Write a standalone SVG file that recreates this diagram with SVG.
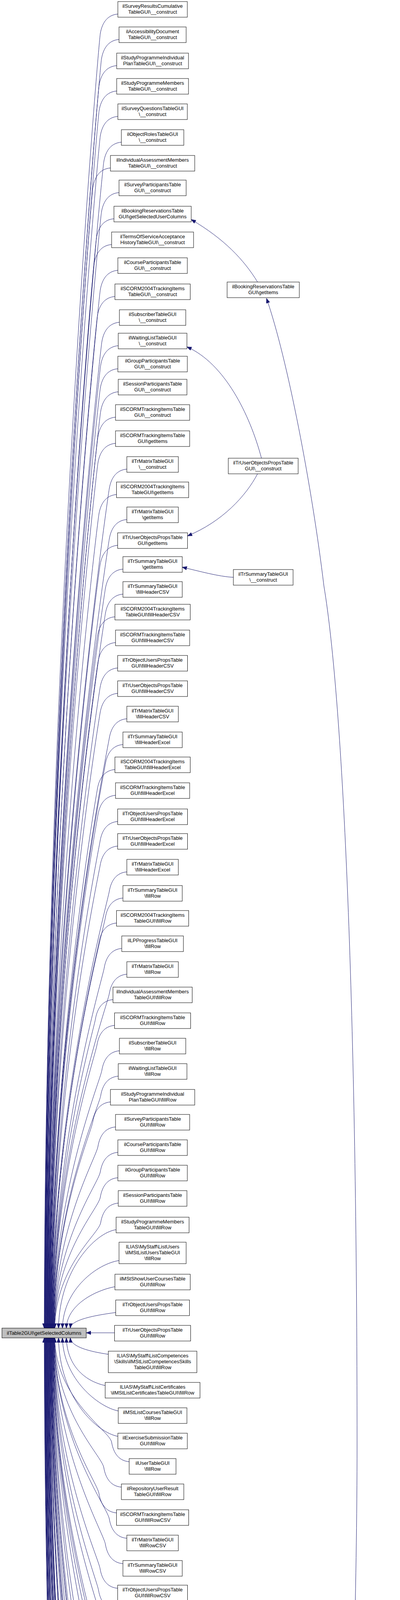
<svg xmlns="http://www.w3.org/2000/svg" width="1025" height="6863" viewBox="0 0 1025 6863">
<style>
.n rect{fill:#fff;stroke:#000;stroke-width:1}
.m rect{fill:#bfbfbf;stroke:#000;stroke-width:1}
text{font-family:"Liberation Sans",Arial,sans-serif;font-size:13px;fill:#000;text-anchor:middle}
.e path{fill:none;stroke:#191970;stroke-width:1;marker-end:url(#a)}
</style>
<defs><marker id="a" markerWidth="13" markerHeight="10" refX="12" refY="4.5" orient="auto" markerUnits="userSpaceOnUse"><path d="M0,0L12,4.5L0,9z" fill="#191970" stroke="#191970" stroke-width="1"/></marker></defs>
<rect width="1025" height="6863" fill="#fff"/>
<g id="connectors" class="e">
<path d="M302,36 c-25,2 -40,20 -45,50 S116.3,1718 113.3,3400"/>
<path d="M305,101 c-25,2 -40,20 -45,50 S116.9,1750.5 113.9,3400"/>
<path d="M299,168 c-25,2 -40,20 -45,50 S117.5,1784 114.5,3400"/>
<path d="M299,233 c-25,2 -40,20 -45,50 S118,1816.5 115,3400"/>
<path d="M302,298 c-25,2 -40,20 -45,50 S118.6,1849 115.6,3400"/>
<path d="M311,364 c-25,2 -40,20 -45,50 S119.2,1882 116.2,3400"/>
<path d="M283,430 c-25,2 -40,20 -45,50 S119.8,1915 116.8,3400"/>
<path d="M305,493 c-25,2 -40,20 -45,50 S120.3,1946.5 117.3,3400"/>
<path d="M292,560 c-25,2 -40,20 -45,50 S120.9,1980 117.9,3400"/>
<path d="M286,626 c-25,2 -40,20 -45,50 S121.5,2013 118.5,3400"/>
<path d="M302,692 c-25,2 -40,20 -45,50 S122.1,2046 119.1,3400"/>
<path d="M294.5,759 c-25,2 -40,20 -45,50 S122.7,2079.5 119.7,3400"/>
<path d="M306,825 c-25,2 -40,20 -45,50 S123.3,2112.5 120.3,3400"/>
<path d="M303,885 c-25,2 -40,20 -45,50 S123.8,2142.5 120.8,3400"/>
<path d="M302,944 c-25,2 -40,20 -45,50 S124.3,2172 121.3,3400"/>
<path d="M303,1003 c-25,2 -40,20 -45,50 S124.8,2201.5 121.8,3400"/>
<path d="M296,1068 c-25,2 -40,20 -45,50 S125.4,2234 122.4,3400"/>
<path d="M296,1135 c-25,2 -40,20 -45,50 S126,2267.5 123,3400"/>
<path d="M325,1201 c-25,2 -40,20 -45,50 S126.6,2300.5 123.6,3400"/>
<path d="M298.5,1266 c-25,2 -40,20 -45,50 S127.2,2333 124.2,3400"/>
<path d="M325,1330 c-25,2 -40,20 -45,50 S127.7,2365 124.7,3400"/>
<path d="M301.5,1396 c-25,2 -40,20 -45,50 S128.3,2398 125.3,3400"/>
<path d="M315,1457 c-25,2 -40,20 -45,50 S128.9,2428.5 125.9,3400"/>
<path d="M315,1521 c-25,2 -40,20 -45,50 S129.4,2460.5 126.4,3400"/>
<path d="M294.5,1579 c-25,2 -40,20 -45,50 S129.9,2489.5 126.9,3400"/>
<path d="M296,1645 c-25,2 -40,20 -45,50 S130.5,2522.5 127.5,3400"/>
<path d="M301.5,1710 c-25,2 -40,20 -45,50 S131.1,2555 128.1,3400"/>
<path d="M301.5,1775 c-25,2 -40,20 -45,50 S131.7,2587.5 128.7,3400"/>
<path d="M325,1840 c-25,2 -40,20 -45,50 S132.2,2620 129.2,3400"/>
<path d="M315,1906 c-25,2 -40,20 -45,50 S132.8,2653 129.8,3400"/>
<path d="M294.5,1970 c-25,2 -40,20 -45,50 S133.4,2685 130.4,3400"/>
<path d="M296,2036 c-25,2 -40,20 -45,50 S134,2718 131,3400"/>
<path d="M301.5,2103 c-25,2 -40,20 -45,50 S134.6,2751.5 131.6,3400"/>
<path d="M301.5,2166 c-25,2 -40,20 -45,50 S135.1,2783 132.1,3400"/>
<path d="M325,2232 c-25,2 -40,20 -45,50 S135.7,2816 132.7,3400"/>
<path d="M315,2299 c-25,2 -40,20 -45,50 S136.3,2849.5 133.3,3400"/>
<path d="M298.5,2363 c-25,2 -40,20 -45,50 S136.8,2881.5 133.8,3400"/>
<path d="M312,2428 c-25,2 -40,20 -45,50 S137.4,2914 134.4,3400"/>
<path d="M325,2494 c-25,2 -40,20 -45,50 S138,2947 135,3400"/>
<path d="M289.5,2559 c-25,2 -40,20 -45,50 S138.6,2979.5 135.6,3400"/>
<path d="M293.5,2625 c-25,2 -40,20 -45,50 S139.2,3012.5 136.2,3400"/>
<path d="M306,2690 c-25,2 -40,20 -45,50 S139.7,3045 136.7,3400"/>
<path d="M303,2755 c-25,2 -40,20 -45,50 S140.3,3077.5 137.3,3400"/>
<path d="M283,2821 c-25,2 -40,20 -45,50 S140.9,3110.5 137.9,3400"/>
<path d="M296,2885 c-25,2 -40,20 -45,50 S141.5,3142.5 138.5,3400"/>
<path d="M302,2950 c-25,2 -40,20 -45,50 S142,3175 139,3400"/>
<path d="M302,3015 c-25,2 -40,20 -45,50 S142.6,3207.5 139.6,3400"/>
<path d="M303,3080 c-25,2 -40,20 -45,50 S143.2,3240 140.2,3400"/>
<path d="M297.5,3148 C245,3155 152,3250 150,3400"/>
<path d="M305,3227 C250,3235 162,3300 160,3400"/>
<path d="M294.5,3294 C245,3303 172,3340 170,3400"/>
<path d="M296.5,3360 C245,3367 182,3378 180,3400"/>
<path d="M293.5,3412 L221,3412"/>
<path d="M277.5,3467 C230,3460 182,3448 180,3425"/>
<path d="M269.5,3547 C222,3537 172,3500 170,3425"/>
<path d="M303,3612 C252,3602 162,3530 160,3425"/>
<path d="M302,3677 C250,3668 152,3580 150,3425"/>
<path d="M331,3742 c-25,-2 -40,-20 -45,-50 S143.2,3583.5 140.2,3425"/>
<path d="M311,3807 c-25,-2 -40,-20 -45,-50 S142.6,3616 139.6,3425"/>
<path d="M298.5,3873 c-25,-2 -40,-20 -45,-50 S142,3649 139,3425"/>
<path d="M325,3938 c-25,-2 -40,-20 -45,-50 S141.5,3681.5 138.5,3425"/>
<path d="M315,4003 c-25,-2 -40,-20 -45,-50 S140.9,3714 137.9,3425"/>
<path d="M301.5,4066 c-25,-2 -40,-20 -45,-50 S140.3,3745.5 137.3,3425"/>
<path d="M297.5,4121 c-25,-2 -40,-20 -45,-50 S139.9,3773 136.9,3425"/>
<path d="M301.5,4185 c-25,-2 -40,-20 -45,-50 S139.3,3805 136.3,3425"/>
<path d="M294.5,4253 c-25,-2 -40,-20 -45,-50 S138.7,3839 135.7,3425"/>
<path d="M296,4318 c-25,-2 -40,-20 -45,-50 S138.1,3871.5 135.1,3425"/>
<path d="M325,4381 c-25,-2 -40,-20 -45,-50 S137.6,3903 134.6,3425"/>
<path d="M315,4445 c-25,-2 -40,-20 -45,-50 S137,3935 134,3425"/>
<path d="M301.5,4509 c-25,-2 -40,-20 -45,-50 S136.4,3967 133.4,3425"/>
<path d="M301.5,4575 c-25,-2 -40,-20 -45,-50 S135.9,4000 132.9,3425"/>
<path d="M294.5,4645 c-25,-2 -40,-20 -45,-50 S135.2,4035 132.2,3425"/>
<path d="M296,4711 c-25,-2 -40,-20 -45,-50 S134.6,4068 131.6,3425"/>
<path d="M311,4773 c-25,-2 -40,-20 -45,-50 S134.1,4099 131.1,3425"/>
<path d="M305,4837 c-25,-2 -40,-20 -45,-50 S133.5,4131 130.5,3425"/>
<path d="M302,4903 c-25,-2 -40,-20 -45,-50 S133,4164 130,3425"/>
<path d="M302,4966 c-25,-2 -40,-20 -45,-50 S132.4,4195.5 129.4,3425"/>
<path d="M301.5,5029 c-25,-2 -40,-20 -45,-50 S131.8,4227 128.8,3425"/>
<path d="M331,5092 c-25,-2 -40,-20 -45,-50 S131.3,4258.5 128.3,3425"/>
<path d="M295.5,5154 c-25,-2 -40,-20 -45,-50 S130.7,4289.5 127.7,3425"/>
<path d="M302,5213 c-25,-2 -40,-20 -45,-50 S130.2,4319 127.2,3425"/>
<path d="M302,5272 c-25,-2 -40,-20 -45,-50 S129.7,4348.5 126.7,3425"/>
<path d="M277.5,5337 c-25,-2 -40,-20 -45,-50 S129.1,4381 126.1,3425"/>
<path d="M291,5418 c-25,-2 -40,-20 -45,-50 S128.4,4421.5 125.4,3425"/>
<path d="M293.5,5498 c-25,-2 -40,-20 -45,-50 S127.7,4461.5 124.7,3425"/>
<path d="M308.5,5558 c-25,-2 -40,-20 -45,-50 S127.2,4491.5 124.2,3425"/>
<path d="M305,5614 c-25,-2 -40,-20 -45,-50 S126.7,4519.5 123.7,3425"/>
<path d="M297.5,5696 c-25,-2 -40,-20 -45,-50 S126,4560.5 123,3425"/>
<path d="M303,5756 c-25,-2 -40,-20 -45,-50 S125.4,4590.5 122.4,3425"/>
<path d="M306,5823 c-25,-2 -40,-20 -45,-50 S124.8,4624 121.8,3425"/>
<path d="M302,5883 c-25,-2 -40,-20 -45,-50 S124.3,4654 121.3,3425"/>
<path d="M298.5,5956 c-25,-2 -40,-20 -45,-50 S123.7,4690.5 120.7,3425"/>
<path d="M311,6021 c-25,-2 -40,-20 -45,-50 S123.1,4723 120.1,3425"/>
<path d="M293.5,6087 c-25,-2 -40,-20 -45,-50 S122.5,4756 119.5,3425"/>
<path d="M298.5,6152 c-25,-2 -40,-20 -45,-50 S121.9,4788.5 118.9,3425"/>
<path d="M288.5,6205 c-25,-2 -40,-20 -45,-50 S121.5,4815 118.5,3425"/>
<path d="M303,6270 c-25,-2 -40,-20 -45,-50 S120.9,4847.5 117.9,3425"/>
<path d="M302,6336 c-25,-2 -40,-20 -45,-50 S120.3,4880.5 117.3,3425"/>
<path d="M288.5,6401 c-25,-2 -40,-20 -45,-50 S119.7,4913 116.7,3425"/>
<path d="M302,6466 c-25,-2 -40,-20 -45,-50 S119.2,4945.5 116.2,3425"/>
<path d="M292.5,6531 c-25,-2 -40,-20 -45,-50 S118.6,4978 115.6,3425"/>
<path d="M296.5,6596 c-25,-2 -40,-20 -45,-50 S118,5010.5 115,3425"/>
<path d="M305,6662 c-25,-2 -40,-20 -45,-50 S117.4,5043.5 114.4,3425"/>
<path d="M302,6727 c-25,-2 -40,-20 -45,-50 S116.9,5076 113.9,3425"/>
<path d="M292.5,6793 c-25,-2 -40,-20 -45,-50 S116.3,5109 113.3,3425"/>
<path d="M660,722 C625,665 575,612 490,562"/>
<path d="M670,1173 C640,1060 575,930 479,888"/>
<path d="M660,1213 C630,1270 570,1335 480.5,1372"/>
<path d="M598,1478 C560,1476 510,1462 467,1452"/>
<path d="M483.5,6160 C620,6150 770,6110 792,6050 C860,5700 915,4400 915,3700 C915,2600 880,1800 830,1500 C800,1250 737,919 683,764"/>
<path d="M585,4906 C560,4930 520,5010 480.5,5035"/>
<path d="M582,4972 C555,4990 525,5120 486.5,5152"/>
<path d="M582,5038 C555,5055 530,5140 486.5,5160"/>
<path d="M600,5107 C570,5115 525,5150 486.5,5167"/>
<path d="M582,5157 C550,5160 515,5170 486.5,5174"/>
<path d="M585,5226 C540,5228 510,5226 480,5226"/>
<path d="M585,5238 C540,5248 510,5270 480,5280"/>
<path d="M583,5283 L480,5284"/>
<path d="M561,5357 L504.5,5357"/>
<path d="M575,5410 C550,5400 525,5388 504.5,5380"/>
<path d="M574,5500 C545,5485 515,5470 491,5455"/>
<path d="M578,5572 C540,5550 525,5480 491,5462"/>
<path d="M580,5652 C540,5630 525,5560 488.5,5524"/>
<path d="M578,5716 C535,5690 520,5580 488.5,5528"/>
<path d="M590,5783 C545,5760 525,5670 477,5640"/>
<path d="M590,5863 C545,5840 520,5690 477,5648"/>
<path d="M585,5944 C540,5920 520,5750 484.5,5712"/>
<path d="M585,6009 C540,5985 515,5770 484.5,5720"/>
<path d="M572,6216 L493.5,6216"/>
<path d="M582,6542 L489.5,6542"/>
<path d="M595,6781 C560,6785 520,6792 489.5,6798"/>
<path d="M586,6826 C555,6820 520,6812 489.5,6808"/>
</g>
<g id="main" class="m"><rect x="5" y="3400" width="216" height="25"/><text x="113" y="3417">ilTable2GUI\getSelectedColumns</text></g>
<g class="n">
<g id="c1_1"><rect x="302" y="4" width="178" height="40"/><text x="391" y="20">ilSurveyResultsCumulative</text><text x="391" y="35">TableGUI\__construct</text></g>
<g id="c1_2"><rect x="305" y="69" width="172" height="40"/><text x="391" y="85">ilAccessibilityDocument</text><text x="391" y="100">TableGUI\__construct</text></g>
<g id="c1_3"><rect x="299" y="136" width="184" height="40"/><text x="391" y="152">ilStudyProgrammeIndividual</text><text x="391" y="167">PlanTableGUI\__construct</text></g>
<g id="c1_4"><rect x="299" y="201" width="184" height="40"/><text x="391" y="217">ilStudyProgrammeMembers</text><text x="391" y="232">TableGUI\__construct</text></g>
<g id="c1_5"><rect x="302" y="266" width="178" height="40"/><text x="391" y="282">ilSurveyQuestionsTableGUI</text><text x="391" y="297">\__construct</text></g>
<g id="c1_6"><rect x="311" y="332" width="160" height="40"/><text x="391" y="348">ilObjectRolesTableGUI</text><text x="391" y="363">\__construct</text></g>
<g id="c1_7"><rect x="283" y="398" width="216" height="40"/><text x="391" y="414">ilIndividualAssessmentMembers</text><text x="391" y="429">TableGUI\__construct</text></g>
<g id="c1_8"><rect x="305" y="461" width="172" height="40"/><text x="391" y="477">ilSurveyParticipantsTable</text><text x="391" y="492">GUI\__construct</text></g>
<g id="c1_9"><rect x="292" y="528" width="198" height="40"/><text x="391" y="544">ilBookingReservationsTable</text><text x="391" y="559">GUI\getSelectedUserColumns</text></g>
<g id="c1_10"><rect x="286" y="594" width="210" height="40"/><text x="391" y="610">ilTermsOfServiceAcceptance</text><text x="391" y="625">HistoryTableGUI\__construct</text></g>
<g id="c1_11"><rect x="302" y="660" width="178" height="40"/><text x="391" y="676">ilCourseParticipantsTable</text><text x="391" y="691">GUI\__construct</text></g>
<g id="c1_12"><rect x="294.5" y="727" width="193" height="40"/><text x="391" y="743">ilSCORM2004TrackingItems</text><text x="391" y="758">TableGUI\__construct</text></g>
<g id="c1_13"><rect x="306" y="793" width="170" height="40"/><text x="391" y="809">ilSubscriberTableGUI</text><text x="391" y="824">\__construct</text></g>
<g id="c1_14"><rect x="303" y="853" width="176" height="40"/><text x="391" y="869">ilWaitingListTableGUI</text><text x="391" y="884">\__construct</text></g>
<g id="c1_15"><rect x="302" y="912" width="178" height="40"/><text x="391" y="928">ilGroupParticipantsTable</text><text x="391" y="943">GUI\__construct</text></g>
<g id="c1_16"><rect x="303" y="971" width="176" height="40"/><text x="391" y="987">ilSessionParticipantsTable</text><text x="391" y="1002">GUI\__construct</text></g>
<g id="c1_17"><rect x="296" y="1036" width="190" height="40"/><text x="391" y="1052">ilSCORMTrackingItemsTable</text><text x="391" y="1067">GUI\__construct</text></g>
<g id="c1_18"><rect x="296" y="1103" width="190" height="40"/><text x="391" y="1119">ilSCORMTrackingItemsTable</text><text x="391" y="1134">GUI\getItems</text></g>
<g id="c1_19"><rect x="325" y="1169" width="132" height="40"/><text x="391" y="1185">ilTrMatrixTableGUI</text><text x="391" y="1200">\__construct</text></g>
<g id="c1_20"><rect x="298.5" y="1234" width="185" height="40"/><text x="391" y="1250">ilSCORM2004TrackingItems</text><text x="391" y="1265">TableGUI\getItems</text></g>
<g id="c1_21"><rect x="325" y="1298" width="132" height="40"/><text x="391" y="1314">ilTrMatrixTableGUI</text><text x="391" y="1329">\getItems</text></g>
<g id="c1_22"><rect x="301.5" y="1364" width="179" height="40"/><text x="391" y="1380">ilTrUserObjectsPropsTable</text><text x="391" y="1395">GUI\getItems</text></g>
<g id="c1_23"><rect x="315" y="1425" width="152" height="40"/><text x="391" y="1441">ilTrSummaryTableGUI</text><text x="391" y="1456">\getItems</text></g>
<g id="c1_24"><rect x="315" y="1489" width="152" height="40"/><text x="391" y="1505">ilTrSummaryTableGUI</text><text x="391" y="1520">\fillHeaderCSV</text></g>
<g id="c1_25"><rect x="294.5" y="1547" width="193" height="40"/><text x="391" y="1563">ilSCORM2004TrackingItems</text><text x="391" y="1578">TableGUI\fillHeaderCSV</text></g>
<g id="c1_26"><rect x="296" y="1613" width="190" height="40"/><text x="391" y="1629">ilSCORMTrackingItemsTable</text><text x="391" y="1644">GUI\fillHeaderCSV</text></g>
<g id="c1_27"><rect x="301.5" y="1678" width="179" height="40"/><text x="391" y="1694">ilTrObjectUsersPropsTable</text><text x="391" y="1709">GUI\fillHeaderCSV</text></g>
<g id="c1_28"><rect x="301.5" y="1743" width="179" height="40"/><text x="391" y="1759">ilTrUserObjectsPropsTable</text><text x="391" y="1774">GUI\fillHeaderCSV</text></g>
<g id="c1_29"><rect x="325" y="1808" width="132" height="40"/><text x="391" y="1824">ilTrMatrixTableGUI</text><text x="391" y="1839">\fillHeaderCSV</text></g>
<g id="c1_30"><rect x="315" y="1874" width="152" height="40"/><text x="391" y="1890">ilTrSummaryTableGUI</text><text x="391" y="1905">\fillHeaderExcel</text></g>
<g id="c1_31"><rect x="294.5" y="1938" width="193" height="40"/><text x="391" y="1954">ilSCORM2004TrackingItems</text><text x="391" y="1969">TableGUI\fillHeaderExcel</text></g>
<g id="c1_32"><rect x="296" y="2004" width="190" height="40"/><text x="391" y="2020">ilSCORMTrackingItemsTable</text><text x="391" y="2035">GUI\fillHeaderExcel</text></g>
<g id="c1_33"><rect x="301.5" y="2071" width="179" height="40"/><text x="391" y="2087">ilTrObjectUsersPropsTable</text><text x="391" y="2102">GUI\fillHeaderExcel</text></g>
<g id="c1_34"><rect x="301.5" y="2134" width="179" height="40"/><text x="391" y="2150">ilTrUserObjectsPropsTable</text><text x="391" y="2165">GUI\fillHeaderExcel</text></g>
<g id="c1_35"><rect x="325" y="2200" width="132" height="40"/><text x="391" y="2216">ilTrMatrixTableGUI</text><text x="391" y="2231">\fillHeaderExcel</text></g>
<g id="c1_36"><rect x="315" y="2267" width="152" height="40"/><text x="391" y="2283">ilTrSummaryTableGUI</text><text x="391" y="2298">\fillRow</text></g>
<g id="c1_37"><rect x="298.5" y="2331" width="185" height="40"/><text x="391" y="2347">ilSCORM2004TrackingItems</text><text x="391" y="2362">TableGUI\fillRow</text></g>
<g id="c1_38"><rect x="312" y="2396" width="158" height="40"/><text x="391" y="2412">ilLPProgressTableGUI</text><text x="391" y="2427">\fillRow</text></g>
<g id="c1_39"><rect x="325" y="2462" width="132" height="40"/><text x="391" y="2478">ilTrMatrixTableGUI</text><text x="391" y="2493">\fillRow</text></g>
<g id="c1_40"><rect x="289.5" y="2527" width="203" height="40"/><text x="391" y="2543">ilIndividualAssessmentMembers</text><text x="391" y="2558">TableGUI\fillRow</text></g>
<g id="c1_41"><rect x="293.5" y="2593" width="195" height="40"/><text x="391" y="2609">ilSCORMTrackingItemsTable</text><text x="391" y="2624">GUI\fillRow</text></g>
<g id="c1_42"><rect x="306" y="2658" width="170" height="40"/><text x="391" y="2674">ilSubscriberTableGUI</text><text x="391" y="2689">\fillRow</text></g>
<g id="c1_43"><rect x="303" y="2723" width="176" height="40"/><text x="391" y="2739">ilWaitingListTableGUI</text><text x="391" y="2754">\fillRow</text></g>
<g id="c1_44"><rect x="283" y="2789" width="216" height="40"/><text x="391" y="2805">ilStudyProgrammeIndividual</text><text x="391" y="2820">PlanTableGUI\fillRow</text></g>
<g id="c1_45"><rect x="296" y="2853" width="190" height="40"/><text x="391" y="2869">ilSurveyParticipantsTable</text><text x="391" y="2884">GUI\fillRow</text></g>
<g id="c1_46"><rect x="302" y="2918" width="178" height="40"/><text x="391" y="2934">ilCourseParticipantsTable</text><text x="391" y="2949">GUI\fillRow</text></g>
<g id="c1_47"><rect x="302" y="2983" width="178" height="40"/><text x="391" y="2999">ilGroupParticipantsTable</text><text x="391" y="3014">GUI\fillRow</text></g>
<g id="c1_48"><rect x="303" y="3048" width="176" height="40"/><text x="391" y="3064">ilSessionParticipantsTable</text><text x="391" y="3079">GUI\fillRow</text></g>
<g id="c1_49"><rect x="297.5" y="3116" width="187" height="40"/><text x="391" y="3132">ilStudyProgrammeMembers</text><text x="391" y="3147">TableGUI\fillRow</text></g>
<g id="c1_50"><rect x="305" y="3180" width="172" height="55"/><text x="391" y="3196">ILIAS\MyStaff\ListUsers</text><text x="391" y="3211">\ilMStListUsersTableGUI</text><text x="391" y="3226">\fillRow</text></g>
<g id="c1_51"><rect x="294.5" y="3262" width="193" height="40"/><text x="391" y="3278">ilMStShowUserCoursesTable</text><text x="391" y="3293">GUI\fillRow</text></g>
<g id="c1_52"><rect x="296.5" y="3328" width="189" height="40"/><text x="391" y="3344">ilTrObjectUsersPropsTable</text><text x="391" y="3359">GUI\fillRow</text></g>
<g id="c1_53"><rect x="293.5" y="3393" width="195" height="40"/><text x="391" y="3409">ilTrUserObjectsPropsTable</text><text x="391" y="3424">GUI\fillRow</text></g>
<g id="c1_54"><rect x="277.5" y="3459" width="227" height="55"/><text x="391" y="3475">ILIAS\MyStaff\ListCompetences</text><text x="391" y="3490">\Skills\ilMStListCompetencesSkills</text><text x="391" y="3505">TableGUI\fillRow</text></g>
<g id="c1_55"><rect x="269.5" y="3539" width="243" height="40"/><text x="391" y="3555">ILIAS\MyStaff\ListCertificates</text><text x="391" y="3570">\ilMStListCertificatesTableGUI\fillRow</text></g>
<g id="c1_56"><rect x="303" y="3604" width="176" height="40"/><text x="391" y="3620">ilMStListCoursesTableGUI</text><text x="391" y="3635">\fillRow</text></g>
<g id="c1_57"><rect x="302" y="3669" width="178" height="40"/><text x="391" y="3685">ilExerciseSubmissionTable</text><text x="391" y="3700">GUI\fillRow</text></g>
<g id="c1_58"><rect x="331" y="3734" width="120" height="40"/><text x="391" y="3750">ilUserTableGUI</text><text x="391" y="3765">\fillRow</text></g>
<g id="c1_59"><rect x="311" y="3799" width="160" height="40"/><text x="391" y="3815">ilRepositoryUserResult</text><text x="391" y="3830">TableGUI\fillRow</text></g>
<g id="c1_60"><rect x="298.5" y="3865" width="185" height="40"/><text x="391" y="3881">ilSCORMTrackingItemsTable</text><text x="391" y="3896">GUI\fillRowCSV</text></g>
<g id="c1_61"><rect x="325" y="3930" width="132" height="40"/><text x="391" y="3946">ilTrMatrixTableGUI</text><text x="391" y="3961">\fillRowCSV</text></g>
<g id="c1_62"><rect x="315" y="3995" width="152" height="40"/><text x="391" y="4011">ilTrSummaryTableGUI</text><text x="391" y="4026">\fillRowCSV</text></g>
<g id="c1_63"><rect x="301.5" y="4058" width="179" height="40"/><text x="391" y="4074">ilTrObjectUsersPropsTable</text><text x="391" y="4089">GUI\fillRowCSV</text></g>
<g id="c1_64"><rect x="297.5" y="4113" width="187" height="40"/><text x="391" y="4129">ilSCORM2004TrackingItems</text><text x="391" y="4144">TableGUI\fillRowCSV</text></g>
<g id="c1_65"><rect x="301.5" y="4177" width="179" height="40"/><text x="391" y="4193">ilTrUserObjectsPropsTable</text><text x="391" y="4208">GUI\fillRowCSV</text></g>
<g id="c1_66"><rect x="294.5" y="4245" width="193" height="40"/><text x="391" y="4261">ilSCORM2004TrackingItems</text><text x="391" y="4276">TableGUI\fillRowExcel</text></g>
<g id="c1_67"><rect x="296" y="4310" width="190" height="40"/><text x="391" y="4326">ilSCORMTrackingItemsTable</text><text x="391" y="4341">GUI\fillRowExcel</text></g>
<g id="c1_68"><rect x="325" y="4373" width="132" height="40"/><text x="391" y="4389">ilTrMatrixTableGUI</text><text x="391" y="4404">\fillRowExcel</text></g>
<g id="c1_69"><rect x="315" y="4437" width="152" height="40"/><text x="391" y="4453">ilTrSummaryTableGUI</text><text x="391" y="4468">\fillRowExcel</text></g>
<g id="c1_70"><rect x="301.5" y="4501" width="179" height="40"/><text x="391" y="4517">ilTrObjectUsersPropsTable</text><text x="391" y="4532">GUI\fillRowExcel</text></g>
<g id="c1_71"><rect x="301.5" y="4567" width="179" height="40"/><text x="391" y="4583">ilTrUserObjectsPropsTable</text><text x="391" y="4598">GUI\fillRowExcel</text></g>
<g id="c1_72"><rect x="294.5" y="4637" width="193" height="40"/><text x="391" y="4653">ilBookingReservationsTable</text><text x="391" y="4668">GUI\fillRow</text></g>
<g id="c1_73"><rect x="296" y="4703" width="190" height="40"/><text x="391" y="4719">ilSurveyParticipantsTable</text><text x="391" y="4734">GUI\getItems</text></g>
<g id="c1_74"><rect x="311" y="4765" width="160" height="40"/><text x="391" y="4781">ilObjectRolesTableGUI</text><text x="391" y="4796">\fillRow</text></g>
<g id="c1_75"><rect x="305" y="4829" width="172" height="40"/><text x="391" y="4845">ilAccessibilityDocument</text><text x="391" y="4860">TableGUI\fillRow</text></g>
<g id="c1_76"><rect x="302" y="4895" width="178" height="40"/><text x="391" y="4911">ilSurveyQuestionsTableGUI</text><text x="391" y="4926">\fillRow</text></g>
<g id="c1_77"><rect x="302" y="4958" width="178" height="40"/><text x="391" y="4974">ilSurveyResultsCumulative</text><text x="391" y="4989">TableGUI\fillRow</text></g>
<g id="c1_78"><rect x="301.5" y="5021" width="179" height="40"/><text x="391" y="5037">ilTrObjectUsersPropsTable</text><text x="391" y="5052">GUI\getItems</text></g>
<g id="c1_79"><rect x="331" y="5084" width="120" height="40"/><text x="391" y="5100">ilUserTableGUI</text><text x="391" y="5115">\getItems</text></g>
<g id="c1_80"><rect x="295.5" y="5146" width="191" height="40"/><text x="391" y="5162">ilBookingReservationsTable</text><text x="391" y="5177">GUI\getAdditionalExportCols</text></g>
<g id="c1_81"><rect x="302" y="5205" width="178" height="40"/><text x="391" y="5221">ilExerciseSubmissionTable</text><text x="391" y="5236">GUI\initColumns</text></g>
<g id="c1_82"><rect x="302" y="5264" width="178" height="40"/><text x="391" y="5280">ilExerciseSubmissionTable</text><text x="391" y="5295">GUI\parseColumns</text></g>
<g id="c1_83"><rect x="277.5" y="5329" width="227" height="55"/><text x="391" y="5345">ILIAS\MyStaff\ListCompetences</text><text x="391" y="5360">\Skills\ilMStListCompetencesSkills</text><text x="391" y="5375">TableGUI\getFieldValuesForExport</text></g>
<g id="c1_84"><rect x="291" y="5410" width="200" height="55"/><text x="391" y="5426">ILIAS\MyStaff\ListCertificates</text><text x="391" y="5441">\ilMStListCertificatesTableGUI</text><text x="391" y="5456">\getFieldValuesForExport</text></g>
<g id="c1_85"><rect x="293.5" y="5490" width="195" height="40"/><text x="391" y="5506">ilMStShowUserCoursesTable</text><text x="391" y="5521">GUI\getFieldValuesForExport</text></g>
<g id="c1_86"><rect x="308.5" y="5550" width="165" height="40"/><text x="391" y="5566">ilUserTableGUI</text><text x="391" y="5581">\getSelectableColumns</text></g>
<g id="c1_87"><rect x="305" y="5606" width="172" height="55"/><text x="391" y="5622">ILIAS\MyStaff\ListUsers</text><text x="391" y="5637">\ilMStListUsersTableGUI</text><text x="391" y="5652">\getFieldValuesForExport</text></g>
<g id="c1_88"><rect x="297.5" y="5688" width="187" height="40"/><text x="391" y="5704">ilMStListCoursesTableGUI</text><text x="391" y="5719">\getFieldValuesForExport</text></g>
<g id="c1_89"><rect x="303" y="5748" width="176" height="40"/><text x="391" y="5764">ilWaitingListTableGUI</text><text x="391" y="5779">\getItems</text></g>
<g id="c1_90"><rect x="306" y="5815" width="170" height="40"/><text x="391" y="5831">ilSubscriberTableGUI</text><text x="391" y="5846">\getItems</text></g>
<g id="c1_91"><rect x="302" y="5875" width="178" height="40"/><text x="391" y="5891">ilGroupParticipantsTable</text><text x="391" y="5906">GUI\getItems</text></g>
<g id="c1_92"><rect x="298.5" y="5948" width="185" height="40"/><text x="391" y="5964">ilStudyProgrammeMembers</text><text x="391" y="5979">TableGUI\getItems</text></g>
<g id="c1_93"><rect x="311" y="6013" width="160" height="40"/><text x="391" y="6029">ilObjectRolesTableGUI</text><text x="391" y="6044">\getItems</text></g>
<g id="c1_94"><rect x="293.5" y="6079" width="195" height="40"/><text x="391" y="6095">ilStudyProgrammeIndividual</text><text x="391" y="6110">PlanTableGUI\getItems</text></g>
<g id="c1_95"><rect x="298.5" y="6144" width="185" height="40"/><text x="391" y="6160">ilBookingReservationsTable</text><text x="391" y="6175">GUI\__construct</text></g>
<g id="c1_96"><rect x="288.5" y="6197" width="205" height="40"/><text x="391" y="6213">ilLearningSequenceParticipants</text><text x="391" y="6228">TableGUI\getSelectableColumns</text></g>
<g id="c1_97"><rect x="303" y="6262" width="176" height="40"/><text x="391" y="6278">ilSessionParticipantsTable</text><text x="391" y="6293">GUI\getItems</text></g>
<g id="c1_98"><rect x="302" y="6328" width="178" height="40"/><text x="391" y="6344">ilSurveyQuestionsTableGUI</text><text x="391" y="6359">\getItems</text></g>
<g id="c1_99"><rect x="288.5" y="6393" width="205" height="40"/><text x="391" y="6409">ilLearningSequenceParticipants</text><text x="391" y="6424">TableGUI\fillRow</text></g>
<g id="c1_100"><rect x="302" y="6458" width="178" height="40"/><text x="391" y="6474">ilCourseParticipantsTable</text><text x="391" y="6489">GUI\getItems</text></g>
<g id="c1_101"><rect x="292.5" y="6523" width="197" height="40"/><text x="391" y="6539">ilQuestionBrowserTableGUI</text><text x="391" y="6554">\isCommentsColumnSelected</text></g>
<g id="c1_102"><rect x="296.5" y="6588" width="189" height="40"/><text x="391" y="6604">ilIndividualAssessmentMembers</text><text x="391" y="6619">TableGUI\getItems</text></g>
<g id="c1_103"><rect x="305" y="6654" width="172" height="40"/><text x="391" y="6670">ilAccessibilityDocument</text><text x="391" y="6685">TableGUI\getItems</text></g>
<g id="c1_104"><rect x="302" y="6719" width="178" height="40"/><text x="391" y="6735">ilSurveyResultsCumulative</text><text x="391" y="6750">TableGUI\getItems</text></g>
<g id="c1_105"><rect x="292.5" y="6785" width="197" height="40"/><text x="391" y="6801">ILIAS\LegalDocuments</text><text x="391" y="6816">\Legacy\Table\visibleColumns</text></g>
<g id="n_getItems"><rect x="582" y="722" width="185" height="40"/><text x="674.5" y="738">ilBookingReservationsTable</text><text x="674.5" y="753">GUI\getItems</text></g>
<g id="n_truop"><rect x="585" y="1173" width="179" height="40"/><text x="674.5" y="1189">ilTrUserObjectsPropsTable</text><text x="674.5" y="1204">GUI\__construct</text></g>
<g id="n_trsum"><rect x="598" y="1458" width="153" height="40"/><text x="674.5" y="1474">ilTrSummaryTableGUI</text><text x="674.5" y="1489">\__construct</text></g>
<g id="n_troup"><rect x="585" y="4871" width="179" height="40"/><text x="674.5" y="4887">ilTrObjectUsersPropsTable</text><text x="674.5" y="4902">GUI\__construct</text></g>
<g id="n_brfre"><rect x="582" y="4936" width="185" height="40"/><text x="674.5" y="4952">ilBookingReservationsTable</text><text x="674.5" y="4967">GUI\fillRowExcel</text></g>
<g id="n_brfhc"><rect x="582" y="5002" width="185" height="40"/><text x="674.5" y="5018">ilBookingReservationsTable</text><text x="674.5" y="5033">GUI\fillHeaderCSV</text></g>
<g id="n_brfhe"><rect x="582" y="5067" width="185" height="40"/><text x="674.5" y="5083">ilBookingReservationsTable</text><text x="674.5" y="5098">GUI\fillHeaderExcel</text></g>
<g id="n_brfrc"><rect x="582" y="5133" width="185" height="40"/><text x="674.5" y="5149">ilBookingReservationsTable</text><text x="674.5" y="5164">GUI\fillRowCSV</text></g>
<g id="n_exc"><rect x="585" y="5198" width="179" height="40"/><text x="674.5" y="5214">ilExerciseSubmissionTable</text><text x="674.5" y="5229">GUI\__construct</text></g>
<g id="n_exg"><rect x="583" y="5263" width="183" height="40"/><text x="674.5" y="5279">ilExerciseSubmissionTable</text><text x="674.5" y="5294">GUI\getSelectableColumns</text></g>
<g id="n_csc"><rect x="561" y="5329" width="227" height="55"/><text x="674.5" y="5345">ILIAS\MyStaff\ListCompetences</text><text x="674.5" y="5360">\Skills\ilMStListCompetencesSkills</text><text x="674.5" y="5375">TableGUI\fillRowCSV</text></g>
<g id="n_cse"><rect x="561" y="5409" width="227" height="55"/><text x="674.5" y="5425">ILIAS\MyStaff\ListCompetences</text><text x="674.5" y="5440">\Skills\ilMStListCompetencesSkills</text><text x="674.5" y="5455">TableGUI\fillRowExcel</text></g>
<g id="n_lcc"><rect x="574" y="5489" width="201" height="55"/><text x="674.5" y="5505">ILIAS\MyStaff\ListCertificates</text><text x="674.5" y="5520">\ilMStListCertificatesTableGUI</text><text x="674.5" y="5535">\fillRowCSV</text></g>
<g id="n_lce"><rect x="574" y="5569" width="201" height="55"/><text x="674.5" y="5585">ILIAS\MyStaff\ListCertificates</text><text x="674.5" y="5600">\ilMStListCertificatesTableGUI</text><text x="674.5" y="5615">\fillRowExcel</text></g>
<g id="n_suce"><rect x="577" y="5650" width="195" height="40"/><text x="674.5" y="5666">ilMStShowUserCoursesTable</text><text x="674.5" y="5681">GUI\fillRowExcel</text></g>
<g id="n_succ"><rect x="577" y="5715" width="195" height="40"/><text x="674.5" y="5731">ilMStShowUserCoursesTable</text><text x="674.5" y="5746">GUI\fillRowCSV</text></g>
<g id="n_luc"><rect x="590" y="5781" width="169" height="55"/><text x="674.5" y="5797">ILIAS\MyStaff\ListUsers</text><text x="674.5" y="5812">\ilMStListUsersTableGUI</text><text x="674.5" y="5827">\fillRowCSV</text></g>
<g id="n_lue"><rect x="590" y="5861" width="169" height="55"/><text x="674.5" y="5877">ILIAS\MyStaff\ListUsers</text><text x="674.5" y="5892">\ilMStListUsersTableGUI</text><text x="674.5" y="5907">\fillRowExcel</text></g>
<g id="n_lcoe"><rect x="585" y="5942" width="180" height="40"/><text x="674.5" y="5958">ilMStListCoursesTableGUI</text><text x="674.5" y="5973">\fillRowExcel</text></g>
<g id="n_lcoc"><rect x="585" y="6007" width="180" height="40"/><text x="674.5" y="6023">ilMStListCoursesTableGUI</text><text x="674.5" y="6038">\fillRowCSV</text></g>
<g id="n_lsp"><rect x="572" y="6197" width="205" height="40"/><text x="674.5" y="6213">ilLearningSequenceParticipants</text><text x="674.5" y="6228">TableGUI\__construct</text></g>
<g id="n_qb"><rect x="582" y="6523" width="185" height="40"/><text x="674.5" y="6539">ilQuestionBrowserTableGUI</text><text x="674.5" y="6554">\setQuestionData</text></g>
<g id="n_ldf"><rect x="595" y="6751" width="158" height="40"/><text x="674.5" y="6767">ILIAS\LegalDocuments</text><text x="674.5" y="6782">\Legacy\Table\fillRow</text></g>
<g id="n_ldc"><rect x="586" y="6817" width="177" height="40"/><text x="674.5" y="6833">ILIAS\LegalDocuments</text><text x="674.5" y="6848">\Legacy\Table\__construct</text></g>
</g>
</svg>
